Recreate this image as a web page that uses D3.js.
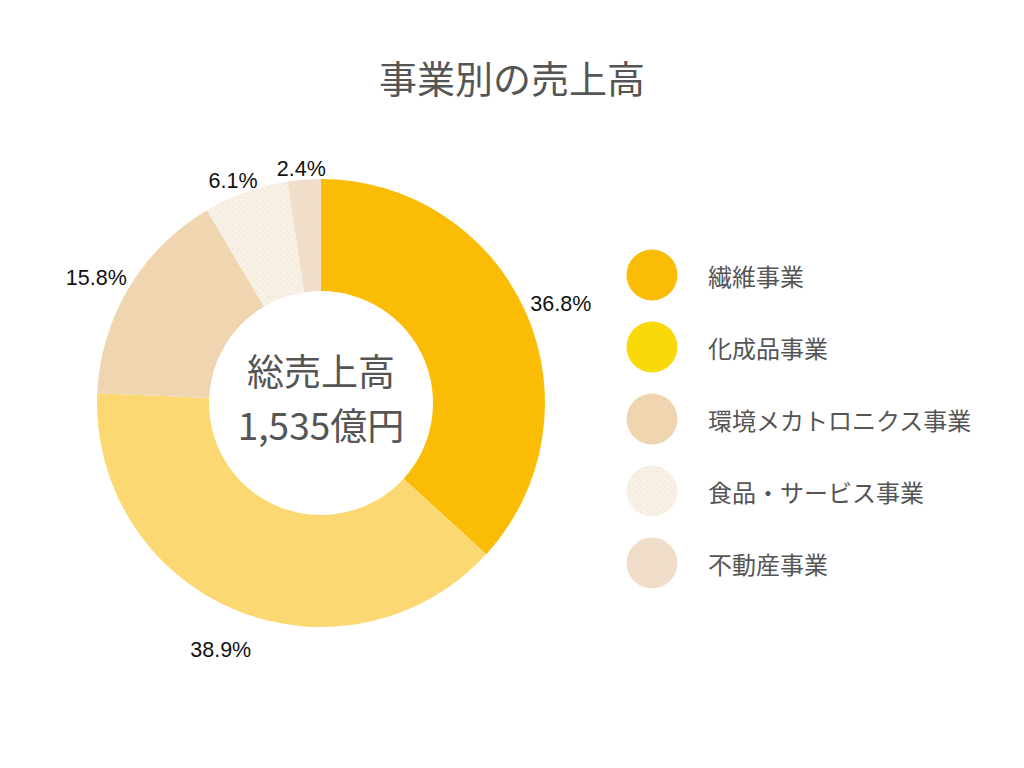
<!DOCTYPE html>
<html><head><meta charset="utf-8">
<script src="https://cdn.jsdelivr.net/npm/d3@7/dist/d3.min.js"></script>
<style>body{margin:0;background:#fff}svg{display:block}</style>
</head><body><svg id="c" width="1024" height="768"></svg>
<script>
const title = "事業別の売上高";
const categories = ["繊維事業","化成品事業","環境メカトロニクス事業","食品・サービス事業","不動産事業"];
const shares = [36.8, 38.9, 15.8, 6.1, 2.4];
const sliceColors = ["#FABC05","#FCD872","#F0D6B0","#F8F0E2","#F0DEC8"];
const legendColors = ["#FABC05","#F9DA08","#F0D6B0","#F8F0E2","#F0DEC8"];
const centerLines = ["総売上高","1,535億円"];

const svg = d3.select("#c");
const jp = "'Noto Sans CJK JP','Noto Sans',sans-serif";
const cx = 321, cy = 403, rOuter = 224, rInner = 112;

const defs = svg.append("defs");
[3,4].forEach(i=>{
  const p = defs.append("pattern").attr("id","dots"+i).attr("patternUnits","userSpaceOnUse")
    .attr("width",6).attr("height",6);
  p.append("rect").attr("width",6).attr("height",6).attr("fill",sliceColors[i]);
  p.append("rect").attr("x",1).attr("y",1).attr("width",1).attr("height",1).attr("fill","#D6DAE8").attr("opacity",i===3?0.8:0.4);
  p.append("rect").attr("x",4).attr("y",4).attr("width",1).attr("height",1).attr("fill","#D6DAE8").attr("opacity",i===3?0.6:0.3);
});

svg.append("text").attr("x",512).attr("y",76).attr("text-anchor","middle")
  .attr("dominant-baseline","central").attr("font-family",jp).attr("font-size",38)
  .attr("fill","#555").text(title);

const pie = d3.pie().sort(null).value(d=>d);
const arcs = pie(shares);
const arc = d3.arc().innerRadius(rInner).outerRadius(rOuter);
const g = svg.append("g").attr("transform",`translate(${cx},${cy})`);
g.selectAll("path").data(arcs).enter().append("path")
  .attr("d",arc).attr("fill",(d,i)=> i>=3 ? `url(#dots${i})` : sliceColors[i]);

g.selectAll("text.lbl").data(arcs).enter().append("text").attr("class","lbl")
  .each(function(d){
    const a = (d.startAngle+d.endAngle)/2;
    const s = Math.sin(a), c = Math.cos(a);
    const rx = 262, ry = 252 - 17*c;
    d3.select(this).attr("x", rx*s).attr("y", -ry*c);
  })
  .attr("text-anchor","middle").attr("dominant-baseline","central")
  .attr("font-family","'Liberation Sans',Arial,sans-serif").attr("font-size",21.5).attr("fill","#111")
  .text(d=>d.data.toFixed(1)+"%");

g.selectAll("text.ctr").data(centerLines).enter().append("text").attr("class","ctr")
  .attr("x",0).attr("y",(d,i)=> i===0 ? -33 : 21)
  .attr("text-anchor","middle").attr("dominant-baseline","central")
  .attr("font-family",jp).attr("font-size",37).attr("fill","#555").text(d=>d);

const lg = svg.append("g").attr("transform","translate(652,275)");
const items = lg.selectAll("g").data(categories).enter().append("g")
  .attr("transform",(d,i)=>`translate(0,${i*72})`);
items.append("circle").attr("r",25.5).attr("fill",(d,i)=> i>=3 ? `url(#dots${i})` : legendColors[i]);
items.append("text").attr("x",56).attr("y",0).attr("dominant-baseline","central")
  .attr("font-family",jp).attr("font-size",24).attr("fill","#555").text(d=>d);
</script></body></html>
